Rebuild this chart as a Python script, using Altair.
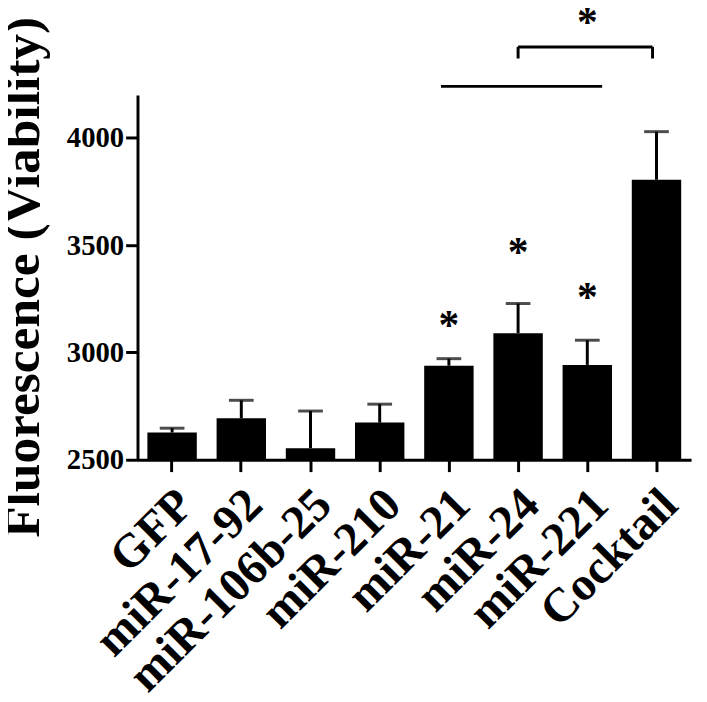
import altair as alt
import pandas as pd

# ---- data ----
categories = ["GFP", "miR-17-92", "miR-106b-25", "miR-210", "miR-21", "miR-24", "miR-221", "Cocktail"]
means = [2627, 2693, 2554, 2673, 2938, 3090, 2942, 3805]
sem = [20, 84, 173, 86, 33, 138, 115, 224]

star_cats = ["miR-21", "miR-24", "miR-221"]
star_vals = [3139, 3480, 3273]

bracket_from = "miR-24"
bracket_to = "Cocktail"
bracket_level = 4424
bracket_drop = 4370
bracket_star = 4551

line_from = "miR-21"
line_to = "miR-221"
line_level = 4240

y_ticks = [2500, 3000, 3500, 4000]
y_domain = [2500, 4200]

FONT = "Liberation Serif"

bars = pd.DataFrame({"cat": categories, "v": means,
                     "v2": [m + s for m, s in zip(means, sem)]})
bars["top"] = bars["v2"]
stars = pd.DataFrame({"cat": star_cats, "v": star_vals})

xenc = alt.X("cat:N",
             scale=alt.Scale(domain=categories, paddingInner=0.286, paddingOuter=0.143),
             axis=alt.Axis(title=None, labelAngle=-45, labelAlign="right", labelBaseline="top",
                           labelFont=FONT, labelFontWeight="bold", labelFontSize=48, labelLimit=0,
                           labelColor="black", labelPadding=9, labelOffset=-3, tickSize=12, tickWidth=3,
                           tickColor="black", domainWidth=3, domainColor="black"))
yenc = alt.Y("v:Q", scale=alt.Scale(domain=y_domain, nice=False, zero=False),
             axis=alt.Axis(values=y_ticks, format="d", title="Fluorescence (Viability)",
                           titleFont=FONT, titleFontWeight="bold", titleFontSize=52,
                           titleColor="black", titleAngle=-90, titleBaseline="alphabetic",
                           titleAlign="center", titleX=-100, titleY=184,
                           labelFont=FONT, labelFontWeight="bold", labelFontSize=29,
                           labelColor="black", labelPadding=2, tickSize=12, tickWidth=3,
                           tickColor="black", domainWidth=3, domainColor="black", grid=False))

base = alt.Chart(bars)
bar_layer = base.mark_bar(color="black").encode(x=xenc, y=yenc, y2=alt.Y2(datum=y_domain[0]))
err_layer = base.mark_rule(color="black", strokeWidth=3).encode(x=xenc, y=yenc, y2="v2:Q")
cap_layer = base.mark_tick(color="black", size=25, thickness=3).encode(x=xenc, y=alt.Y("top:Q"))

star_layer = alt.Chart(stars).mark_text(text="*", font=FONT, fontWeight="bold", fontSize=42,
                                        baseline="alphabetic", dy=17, color="black").encode(x=xenc, y=yenc)

br = pd.DataFrame({"cat": [bracket_from], "cat2": [bracket_to], "v": [bracket_level]})
br_h = alt.Chart(br).mark_rule(color="black", strokeWidth=3, x2Offset=-4).encode(
    x=xenc, x2="cat2:N", y=yenc)
br_l = alt.Chart(pd.DataFrame({"cat": [bracket_from], "v": [bracket_level], "v2": [bracket_drop]})).mark_rule(
    color="black", strokeWidth=3).encode(x=xenc, y=yenc, y2="v2:Q")
br_r = alt.Chart(pd.DataFrame({"cat": [bracket_to], "v": [bracket_level], "v2": [bracket_drop]})).mark_rule(
    color="black", strokeWidth=3, xOffset=-4).encode(x=xenc, y=yenc, y2="v2:Q")
br_star = alt.Chart(pd.DataFrame({"cat": [bracket_from], "v": [bracket_star]})).mark_text(
    text="*", font=FONT, fontWeight="bold", fontSize=42, baseline="alphabetic", dy=17, xOffset=70,
    color="black").encode(x=xenc, y=yenc)

ln = pd.DataFrame({"cat": [line_from], "cat2": [line_to], "v": [line_level]})
ln_layer = alt.Chart(ln).mark_rule(color="black", strokeWidth=3, xOffset=-8, x2Offset=15).encode(
    x=xenc, x2="cat2:N", y=yenc)

chart = alt.layer(bar_layer, err_layer, cap_layer, star_layer, br_h, br_l, br_r, br_star, ln_layer).properties(
    width=560, height=369,
    autosize=alt.AutoSizeParams(type="none"),
    padding={"left": 131, "top": 84, "right": 8, "bottom": 233},
    background="white",
).configure_view(stroke=None)

chart.save("out.html", embed_options={"renderer": "svg", "actions": False})
